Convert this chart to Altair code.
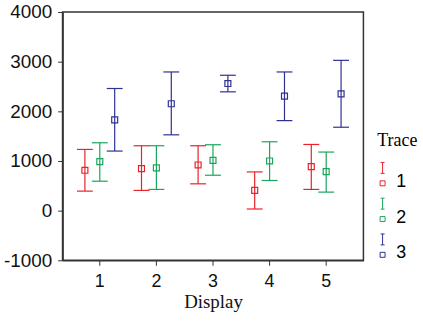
import altair as alt
import pandas as pd

displays = ["1", "2", "3", "4", "5"]
traces = ["1", "2", "3"]
# means, lower and upper error bar ends, per trace (index follows displays)
mean_vals = {
    "1": [813, 847, 920, 407, 887],
    "2": [987, 860, 1013, 1000, 787],
    "3": [1827, 2153, 2560, 2307, 2353],
}
low_vals = {
    "1": [393, 407, 540, 33, 427],
    "2": [593, 427, 713, 607, 373],
    "3": [1200, 1527, 2393, 1813, 1680],
}
high_vals = {
    "1": [1233, 1307, 1307, 780, 1333],
    "2": [1367, 1307, 1327, 1387, 1180],
    "3": [2460, 2793, 2727, 2793, 3027],
}
colors = ["#e8232b", "#1aa55a", "#2e3192"]

rows = []
for t in traces:
    for i, d in enumerate(displays):
        rows.append({"display": d, "trace": t, "mean": mean_vals[t][i],
                     "low": low_vals[t][i], "high": high_vals[t][i]})
df = pd.DataFrame(rows)

x = alt.X("display:N", sort=displays,
          scale=alt.Scale(paddingInner=0, paddingOuter=0.158),
          axis=alt.Axis(title="Display", labelAngle=0, labelFontSize=18,
                        labelFont="Liberation Sans", titleFont="Liberation Serif",
                        titleFontSize=19, titleFontWeight="normal", labelPadding=7,
                        titlePadding=3))
xo = alt.XOffset("trace:N", sort=traces,
                 scale=alt.Scale(paddingInner=0, paddingOuter=0.4))

legend_path = ("M-1.14,-3.9H-0.34M-0.74,-3.9V-1.7M-1.14,-1.7H-0.34"
               "M-1.24,-0.2H-0.24V0.8H-1.24Z")
color = alt.Color("trace:N", scale=alt.Scale(domain=traces, range=colors),
                  legend=alt.Legend(title="Trace", symbolType=legend_path,
                                    symbolSize=100, symbolStrokeWidth=1,
                                    symbolFillColor="transparent",
                                    labelFontSize=18, labelFont="Liberation Sans",
                                    titleFont="Liberation Serif", titleFontSize=18,
                                    titleFontWeight="normal", rowPadding=5,
                                    titlePadding=23,
                                    orient="none", legendX=317, legendY=121,
                                    labelOffset=1))

yscale = alt.Scale(domain=[-1000, 4000], nice=False)
yaxis = alt.Axis(title=None, values=[-1000, 0, 1000, 2000, 3000, 4000],
                 labelFontSize=19, labelFont="Liberation Sans", labelPadding=6,
                 labelExpr="'' + datum.value")

base = alt.Chart(df)

cap_shape = "M-1,0H1"

points = base.mark_point(shape="square", filled=False, size=36, strokeWidth=1.2).encode(
    x=x, xOffset=xo, y=alt.Y("mean:Q", scale=yscale, axis=yaxis), color=color,
)
rules = base.mark_rule(strokeWidth=1.2).encode(
    x=x, xOffset=xo,
    y=alt.Y("low:Q", scale=yscale), y2="high:Q",
    color=color,
)
cap_lo = base.mark_point(shape=cap_shape, filled=False, size=256, strokeWidth=1.2,
                         opacity=1).encode(
    x=x, xOffset=xo, y=alt.Y("low:Q", scale=yscale), color=color,
)
cap_hi = base.mark_point(shape=cap_shape, filled=False, size=256, strokeWidth=1.2,
                         opacity=1).encode(
    x=x, xOffset=xo, y=alt.Y("high:Q", scale=yscale), color=color,
)

chart = alt.layer(points, rules, cap_lo, cap_hi).properties(
    width=303, height=250,
    padding={"left": 3, "top": 2, "right": 5, "bottom": 5},
).configure_view(stroke="#333333", strokeWidth=1.5).configure_axis(
    domainColor="#333333", domainWidth=1.5, tickColor="#333333", tickSize=5,
    labelColor="#111111", titleColor="#111111", grid=False
).configure_point(opacity=1)

chart.save("out.html", embed_options={"renderer": "svg", "actions": False})
